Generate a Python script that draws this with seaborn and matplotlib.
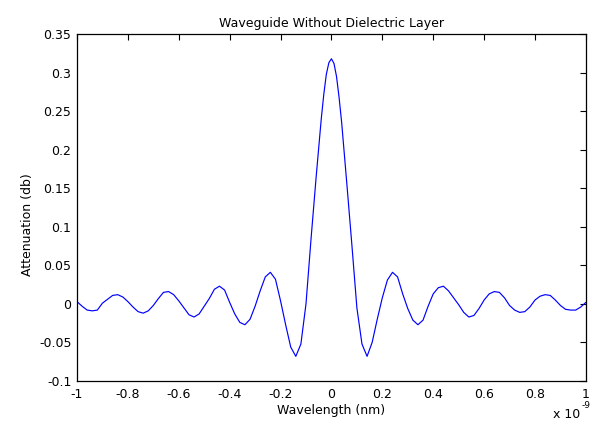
import matplotlib
matplotlib.use("Agg")
import matplotlib.pyplot as plt
import seaborn as sns
import pandas as pd
from matplotlib.ticker import FuncFormatter

# wavelength (x 1e-9) and attenuation
wavelength = [
    -1.00, -0.98, -0.96, -0.94, -0.92, -0.90, -0.88, -0.86, -0.84, -0.82,
    -0.80, -0.78, -0.76, -0.74, -0.72, -0.70, -0.68, -0.66, -0.64, -0.62,
    -0.60, -0.58, -0.56, -0.54, -0.52, -0.50, -0.48, -0.46, -0.44, -0.42,
    -0.40, -0.38, -0.36, -0.34, -0.32, -0.30, -0.28, -0.26, -0.24, -0.22,
    -0.20, -0.18, -0.16, -0.14, -0.12, -0.10, -0.08, -0.06, -0.04, -0.03,
    -0.02, -0.01, 0.00, 0.01, 0.02, 0.03,
    0.04, 0.06, 0.08, 0.10, 0.12, 0.14, 0.16, 0.18, 0.20,
    0.22, 0.24, 0.26, 0.28, 0.30, 0.32, 0.34, 0.36, 0.38, 0.40,
    0.42, 0.44, 0.46, 0.48, 0.50, 0.52, 0.54, 0.56, 0.58, 0.60,
    0.62, 0.64, 0.66, 0.68, 0.70, 0.72, 0.74, 0.76, 0.78, 0.80,
    0.82, 0.84, 0.86, 0.88, 0.90, 0.92, 0.94, 0.96, 0.98, 1.00,
]
attenuation = [
    0.003, -0.003, -0.008, -0.009, -0.008, 0.001, 0.006, 0.011, 0.012, 0.009,
    0.003, -0.004, -0.010, -0.012, -0.009, -0.002, 0.007, 0.015, 0.016, 0.012,
    0.004, -0.005, -0.014, -0.017, -0.013, -0.003, 0.007, 0.019, 0.023, 0.018,
    0.002, -0.013, -0.024, -0.027, -0.020, -0.003, 0.017, 0.035, 0.041, 0.032,
    0.004, -0.027, -0.056, -0.068, -0.052, 0.000, 0.085, 0.165, 0.240, 0.272,
    0.298, 0.313, 0.318, 0.312, 0.295, 0.268,
    0.236, 0.158, 0.078, -0.005, -0.052, -0.068, -0.050, -0.020, 0.008,
    0.031, 0.041, 0.035, 0.013, -0.006, -0.021, -0.027, -0.021, -0.003, 0.013,
    0.021, 0.023, 0.017, 0.008, -0.001, -0.011, -0.017, -0.015, -0.006, 0.005,
    0.013, 0.016, 0.015, 0.008, -0.002, -0.008, -0.011, -0.010, -0.004, 0.005,
    0.010, 0.012, 0.011, 0.005, -0.002, -0.007, -0.008, -0.008, -0.004, 0.002,
]
x_ticks = [-1, -0.8, -0.6, -0.4, -0.2, 0, 0.2, 0.4, 0.6, 0.8, 1]
y_ticks = [-0.1, -0.05, 0, 0.05, 0.1, 0.15, 0.2, 0.25, 0.3, 0.35]

df = pd.DataFrame({"wavelength": wavelength, "attenuation": attenuation})

sns.set_theme(style="white")
plt.rcParams["font.family"] = ["DejaVu Sans"]
plt.rcParams["axes.unicode_minus"] = False
plt.rcParams["text.color"] = "black"
plt.rcParams["axes.labelcolor"] = "black"

fig = plt.figure(figsize=(5.9, 4.21), dpi=100)
ax = fig.add_axes([0.1305, 0.095, 0.8625, 0.824])

sns.lineplot(data=df, x="wavelength", y="attenuation", color="#0000ff",
             linewidth=0.85, ax=ax)

ax.set_xlim(-1, 1)
ax.set_ylim(-0.1, 0.35)
ax.set_xticks(x_ticks)
ax.set_yticks(y_ticks)
fmt = FuncFormatter(lambda v, p: "%g" % round(v, 4))
ax.xaxis.set_major_formatter(fmt)
ax.yaxis.set_major_formatter(fmt)
ax.tick_params(direction="in", length=4, width=0.8, top=True, right=True,
               labelsize=9, colors="black")
ax.tick_params(axis="x", pad=5)
ax.tick_params(axis="y", pad=4)
for s in ax.spines.values():
    s.set_color("black")
    s.set_linewidth(0.9)

ax.set_title("Waveguide Without Dielectric Layer", fontsize=9, pad=5,
             color="black")
ax.set_xlabel("Wavelength (nm)", fontsize=9, labelpad=2.5)
ax.set_ylabel("Attenuation (db)", fontsize=9, labelpad=5)
ax.yaxis.set_label_coords(-0.085, 0.45)
fig.text(0.937, 0.006, "x 10", fontsize=9, ha="left", va="baseline")
fig.text(0.985, 0.03, "-9", fontsize=6.5, ha="left", va="baseline")

fig.savefig("out.png", dpi=100)
